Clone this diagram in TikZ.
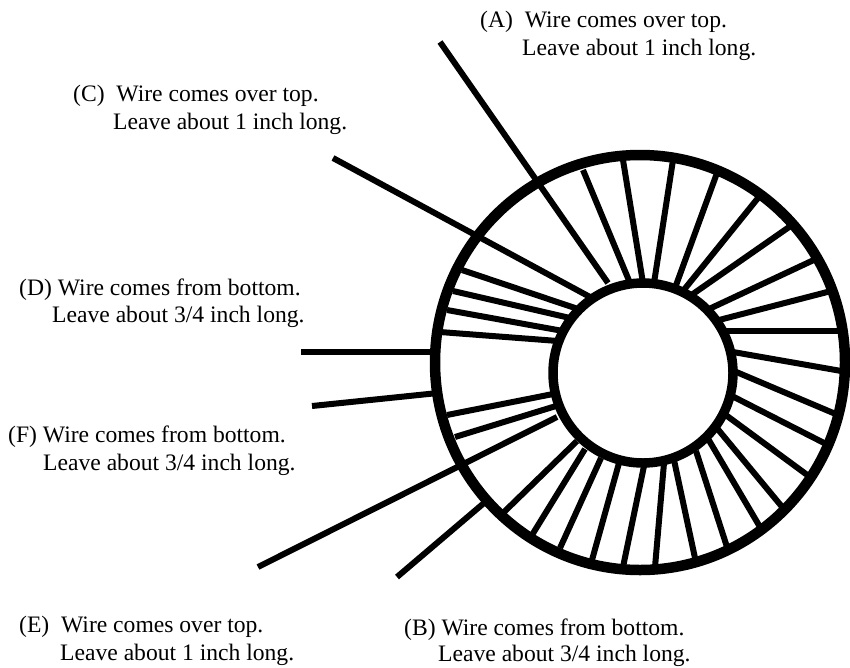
\documentclass[tikz,border=0pt]{standalone}
\usepackage{fontspec}
\setmainfont{Liberation Serif}
\tikzset{
  ring/.style={line width=10.5pt,black},
  innerring/.style={line width=9.5pt,black},
  spoke/.style={line width=6pt,black},
  lab/.style={anchor=base west,inner sep=0pt,font=\fontsize{23.6}{27}\selectfont}
}
\begin{document}
\begin{tikzpicture}[x=1pt,y=-1pt]
\useasboundingbox (0,0) rectangle (850,667);
\foreach \a/\b/\c/\d in {
 440/42/608/283, 583/170/630/283, 623/160/643/283, 673/160/654/283,
 717/173/675/288, 758/198/683/291, 792/225/690/296, 818/258/709/309,
 835/290/719/320, 843/331/725/331, 733/352/847/372, 734/371/838/415,
 730/395/828/445, 723/413/810/477, 716/427/783/508, 707/437/760/527,
 696/451/727/547, 674/460/695/558, 664/463/655/567, 644/466/623/567,
 619/463/592/560, 601/458/560/548, 585/449/532/535, 577/441/503/513,
 397/577/484/503, 258/567/557/417, 455/437/556/406, 447/415/553/394,
 312/406/438/393, 301/352/432/352,
 333/158/590/297, 462/270/578/309, 453/291/570/318, 447/310/563/331, 440/332/558/341}
 \draw[spoke] (\a,\b) -- (\c,\d);
\draw[ring] (640,362.5) ellipse [x radius=205, y radius=207.5];
\draw[innerring] (643,373) circle [radius=90];
\node[lab] (a1) at (480,27) {(A)\ \ Wire comes over top.};
\node[lab] (a2) at (522,55) {Leave about 1 inch long.};
\node[lab] (c1) at (73,101) {(C)\ \ Wire comes over top.};
\node[lab] (c2) at (113,129) {Leave about 1 inch long.};
\node[lab] (d1) at (19,295) {(D) Wire comes from bottom.};
\node[lab] (d2) at (52,322) {Leave about 3/4 inch long.};
\node[lab] (f1) at (8,442) {(F) Wire comes from bottom.};
\node[lab] (f2) at (43,470) {Leave about 3/4 inch long.};
\node[lab] (e1) at (19,632) {(E)\ \ Wire comes over top.};
\node[lab] (e2) at (60,660) {Leave about 1 inch long.};
\node[lab] (b1) at (404,635) {(B) Wire comes from bottom.};
\node[lab] (b2) at (438,661) {Leave about 3/4 inch long.};
\end{tikzpicture}
\end{document}
